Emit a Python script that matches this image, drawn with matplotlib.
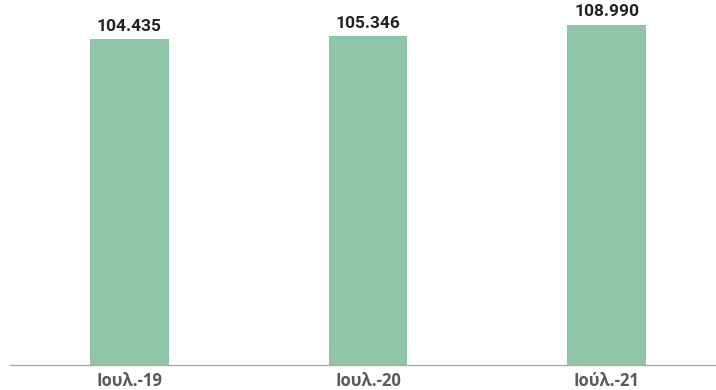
import matplotlib
matplotlib.use("Agg")
import matplotlib.pyplot as plt

categories = ["Ιουλ.-19", "Ιουλ.-20", "Ιούλ.-21"]
values = [104435, 105346, 108990]
value_labels = ["104.435", "105.346", "108.990"]

W, H = 716, 390
fig = plt.figure(figsize=(W / 100, H / 100), dpi=100)
left, right = 10, 726
bottom, top = 365, 0
ax = fig.add_axes([left / W, (H - bottom) / H, (right - left) / W, (bottom - top) / H])

x = list(range(len(categories)))
bars = ax.bar(x, values, width=0.33, color="#8FC4A9", zorder=2)
ax.set_xlim(-0.5, 2.5)
ax.set_ylim(0, 117000)

for b, lab in zip(bars, value_labels):
    ax.annotate(lab, (b.get_x() + b.get_width() / 2, b.get_height()),
                xytext=(0, 4), textcoords="offset points", ha="center", va="bottom",
                fontsize=12.5, fontweight="bold", family="Roboto", color="#222222")

ax.set_xticks(x)
ax.set_xticklabels(categories, fontsize=12, fontweight="bold", family="Open Sans", color="#5a5a5a")
ax.tick_params(axis="x", length=0, pad=5)
ax.set_yticks([])
for s in ["top", "right", "left"]:
    ax.spines[s].set_visible(False)
ax.spines["bottom"].set_color("#aaaaaa")
ax.spines["bottom"].set_linewidth(1)

fig.savefig("out.png", dpi=100)
